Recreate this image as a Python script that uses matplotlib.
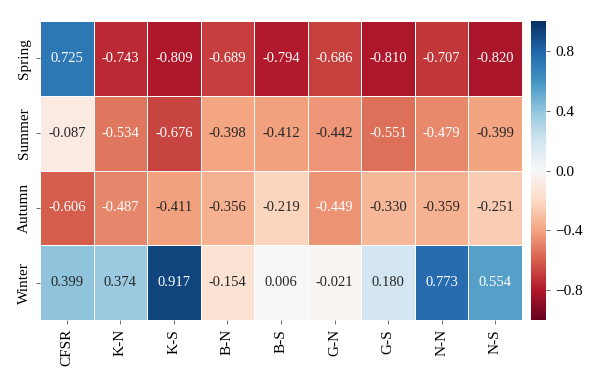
import numpy as np
import matplotlib
matplotlib.use("Agg")
import matplotlib.pyplot as plt
import seaborn as sns

plt.rcParams['font.family'] = ['Liberation Serif', 'DejaVu Serif']

seasons = ["Spring", "Summer", "Autumn", "Winter"]
sites = ["CFSR", "K-N", "K-S", "B-N", "B-S", "G-N", "G-S", "N-N", "N-S"]

spring = [0.725, -0.743, -0.809, -0.689, -0.794, -0.686, -0.810, -0.707, -0.820]
summer = [-0.087, -0.534, -0.676, -0.398, -0.412, -0.442, -0.551, -0.479, -0.399]
autumn = [-0.606, -0.487, -0.411, -0.356, -0.219, -0.449, -0.330, -0.359, -0.251]
winter = [0.399, 0.374, 0.917, -0.154, 0.006, -0.021, 0.180, 0.773, 0.554]

data = np.array([spring, summer, autumn, winter])

fig = plt.figure(figsize=(6, 3.82), dpi=100)
ax = fig.add_axes([0.0667, 0.1623, 0.8033, 0.7827])
cax = fig.add_axes([0.885, 0.1623, 0.025, 0.7827])

sns.heatmap(data, ax=ax, cbar_ax=cax, cmap="RdBu", vmin=-1, vmax=1,
            annot=True, fmt=".3f", linewidths=0.7, linecolor="white",
            annot_kws={"size": 10.5},
            xticklabels=sites, yticklabels=seasons)

ax.tick_params(axis="both", labelsize=11, length=3, width=0.6, color="#555555")
plt.setp(ax.get_xticklabels(), rotation=90)
plt.setp(ax.get_yticklabels(), rotation=90, va="center")

cax.set_yticks([0.8, 0.4, 0.0, -0.4, -0.8])
cax.tick_params(labelsize=11, length=3, width=0.6, color="#555555")

fig.savefig("out.png", dpi=100)
